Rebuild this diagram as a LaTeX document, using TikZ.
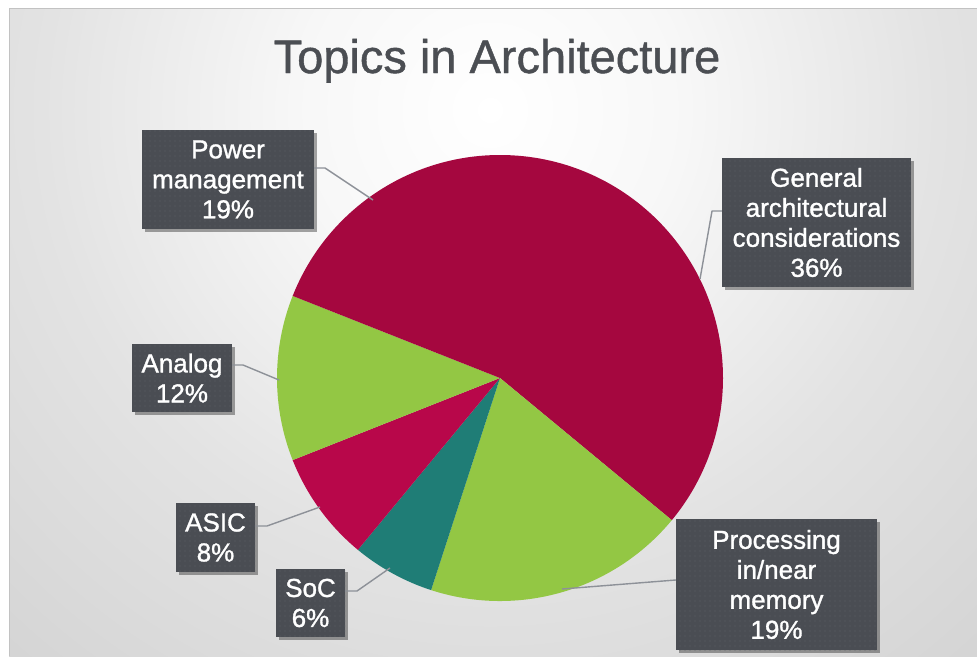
\documentclass[tikz,border=0pt]{standalone}
\usepackage{fontspec}
\setmainfont{Liberation Sans}
\newfontfamily\lblfont[FakeBold=1.2]{Liberation Sans}
\newfontfamily\headfont[FakeBold=0.9]{Liberation Sans}
\usetikzlibrary{shadows,patterns.meta}

\definecolor{crimson}{HTML}{A5073F}
\definecolor{asicred}{HTML}{B8074A}
\definecolor{lime}{HTML}{93C744}
\definecolor{teal}{HTML}{1F7D76}
\definecolor{boxgray}{HTML}{4A4D53}
\definecolor{dotgray}{HTML}{5E6268}
\definecolor{leader}{HTML}{8D9198}
\definecolor{titlegray}{HTML}{4B4E53}
\definecolor{edgegray}{HTML}{C2C2C2}

% backdrop: light centre near the title, darker towards the corners
\pgfdeclareradialshading{backdrop}{\pgfpointorigin}{%
  color(0bp)=(white);
  color(6bp)=(white!97!black);
  color(14bp)=(white!89!black);
  color(25bp)=(white!82!black);
  color(36bp)=(white!76!black);
  color(50bp)=(white!70!black)}

\tikzset{
  lbl/.style={fill=boxgray, text=white, inner sep=0pt, align=center,
    font=\lblfont\fontsize{26}{30}\selectfont,
    drop shadow={shadow xshift=3pt, shadow yshift=-3pt, opacity=0.35, fill=black},
    postaction={pattern={Dots[radius=0.7pt, distance=5pt]}, pattern color=dotgray}},
  lead/.style={draw=leader, line width=1.4pt, line join=round},
}

\begin{document}
\begin{tikzpicture}[x=1pt, y=-1pt]
\useasboundingbox (0,0) rectangle (977,656);

% page background
\fill[white] (0,0) rectangle (977,656);
\begin{scope}
  \clip (9,8) rectangle (977,656);
  \shade[shading=backdrop] (490,110) circle (800pt);
\end{scope}
\draw[edgegray, line width=1.2pt] (9.5,656) -- (9.5,8.5) -- (977,8.5);

% title
\node[anchor=base, text=titlegray, font=\headfont\fontsize{47}{56}\selectfont, inner sep=0pt]
  (title) at (497,73) {Topics in Architecture};

% pie
\coordinate (c) at (500,378);
\fill[crimson] (c) -- ++(90:223pt) arc[start angle=90, end angle=-39.6, radius=223pt] -- cycle;
\fill[lime]    (c) -- ++(-39.6:223pt) arc[start angle=-39.6, end angle=-108, radius=223pt] -- cycle;
\fill[teal]    (c) -- ++(-108:223pt) arc[start angle=-108, end angle=-129.6, radius=223pt] -- cycle;
\fill[asicred] (c) -- ++(-129.6:223pt) arc[start angle=-129.6, end angle=-158.4, radius=223pt] -- cycle;
\fill[lime]    (c) -- ++(-158.4:223pt) arc[start angle=-158.4, end angle=-201.6, radius=223pt] -- cycle;
\fill[crimson] (c) -- ++(-201.6:223pt) arc[start angle=-201.6, end angle=-270, radius=223pt] -- cycle;

% labels
\node[lbl, minimum width=172pt, minimum height=99pt]  (pw)  at (228,179.5) {Power\\management\\19\%};
\node[lbl, minimum width=189pt, minimum height=129pt] (gen) at (816.5,222.5) {General\\architectural\\considerations\\36\%};
\node[lbl, minimum width=100pt, minimum height=68pt]  (ana) at (182,378) {Analog\\12\%};
\node[lbl, minimum width=79pt,  minimum height=69pt]  (asic) at (215.5,537.5) {ASIC\\8\%};
\node[lbl, minimum width=69pt,  minimum height=68pt]  (soc) at (310.5,603) {SoC\\6\%};
\node[lbl, minimum width=201pt, minimum height=131pt] (pim) at (776.5,584.5) {Processing\\in/near\\memory\\19\%};

% leader lines
\coordinate (pw-k) at (325,168);   \coordinate (pw-t) at (373,200);
\coordinate (gen-k) at (712,211);  \coordinate (gen-t) at (700,279);
\coordinate (ana-k) at (243,365);  \coordinate (ana-t) at (279,380);
\coordinate (asic-k) at (267,526); \coordinate (asic-t) at (320,507);
\coordinate (soc-k) at (357,591);  \coordinate (soc-t) at (390,568);
\coordinate (pim-k) at (676,580);  \coordinate (pim-t) at (562,589);

\draw[lead] (pw.east |- pw-k) -- (pw-k) -- (pw-t);
\draw[lead] (gen.west |- gen-k) -- (gen-k) -- (gen-t);
\draw[lead] (ana.east |- ana-k) -- (ana-k) -- (ana-t);
\draw[lead] (asic.east |- asic-k) -- (asic-k) -- (asic-t);
\draw[lead] (soc.east |- soc-k) -- (soc-k) -- (soc-t);
\draw[lead] (pim.west |- pim-k) -- (pim-t);
\end{tikzpicture}
\end{document}
